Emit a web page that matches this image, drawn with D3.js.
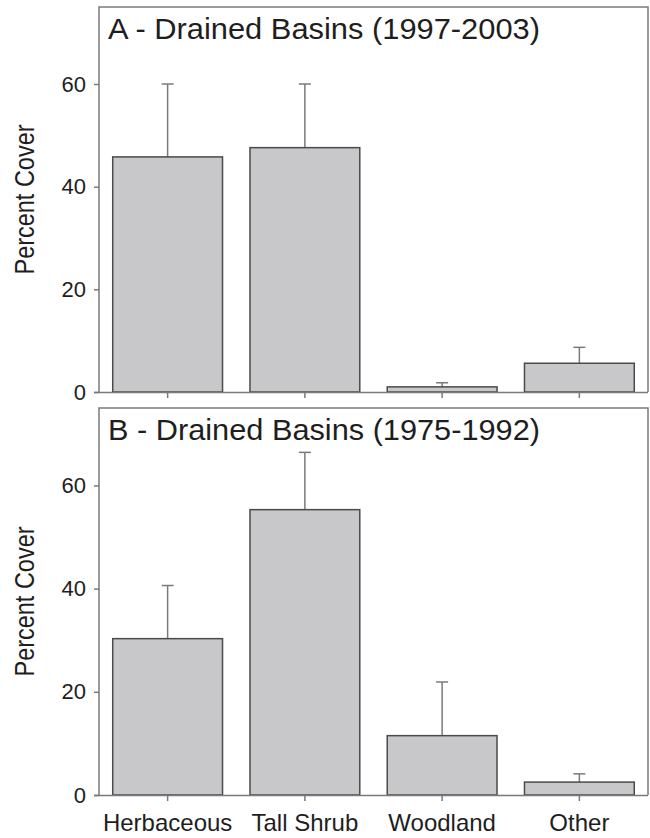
<!DOCTYPE html>
<html>
<head>
<meta charset="utf-8">
<script src="https://cdn.jsdelivr.net/npm/d3@7"></script>
<style>
  body { margin: 0; background: #fff; }
  text { font-family: "Liberation Sans", Arial, sans-serif; fill: #1e1e1e; }
</style>
</head>
<body>
<figure id="chart" style="margin:0"></figure>
<script>
// categories and values
const categories = ["Herbaceous", "Tall Shrub", "Woodland", "Other"];
const titles = ["A - Drained Basins (1997-2003)", "B - Drained Basins (1975-1992)"];
const meanA = [45.8, 47.6, 1.0, 5.6];
const errA = [14.2, 12.4, 0.8, 3.1];
const meanB = [30.3, 55.3, 11.5, 2.5];
const errB = [10.3, 11.1, 10.4, 1.6];
const yTicks = [0, 20, 40, 60];

let dimensions = {
    width: 650,
    height: 838,
    margin: { left: 99, right: 2 },
};

const panels = [
    { title: titles[0], mean: meanA, err: errA, top: 7, bottom: 392, showX: false },
    { title: titles[1], mean: meanB, err: errB, top: 408, bottom: 795, showX: true },
];

var svg = d3.select("figure#chart")
    .append("svg")
    .attr("width", dimensions.width)
    .attr("height", dimensions.height);

var xScale = d3.scaleBand()
    .domain(categories)
    .range([dimensions.margin.left, dimensions.width - dimensions.margin.right])
    .paddingInner(0.2)
    .paddingOuter(0.1);

panels.forEach(function(p) {
    var yScale = d3.scaleLinear()
        .domain([0, 75])
        .range([p.bottom, p.top]);

    var g = svg.append("g");

    // frame (left, top, right)
    g.append("path")
        .attr("d", `M${xScale.range()[0]},${p.bottom}V${p.top}H${xScale.range()[1]}V${p.bottom}`)
        .attr("fill", "none")
        .attr("stroke", "#7a7a7a")
        .attr("stroke-width", 1.5);

    var data = categories.map((c, i) => ({ cat: c, v: p.mean[i], e: p.err[i] }));

    // error bars (drawn before bars so bar covers the lower part)
    g.selectAll(".err")
        .data(data)
        .enter()
        .append("line")
        .attr("x1", d => xScale(d.cat) + xScale.bandwidth() / 2)
        .attr("x2", d => xScale(d.cat) + xScale.bandwidth() / 2)
        .attr("y1", d => yScale(d.v))
        .attr("y2", d => yScale(d.v + d.e))
        .attr("stroke", "#7a7a7a")
        .attr("stroke-width", 1.5);

    g.selectAll(".cap")
        .data(data)
        .enter()
        .append("line")
        .attr("x1", d => xScale(d.cat) + xScale.bandwidth() / 2 - 6)
        .attr("x2", d => xScale(d.cat) + xScale.bandwidth() / 2 + 6)
        .attr("y1", d => yScale(d.v + d.e))
        .attr("y2", d => yScale(d.v + d.e))
        .attr("stroke", "#7a7a7a")
        .attr("stroke-width", 1.5);

    g.selectAll(".bar")
        .data(data)
        .enter()
        .append("rect")
        .attr("x", d => xScale(d.cat))
        .attr("y", d => yScale(d.v))
        .attr("width", xScale.bandwidth())
        .attr("height", d => yScale(0) - yScale(d.v))
        .attr("fill", "#c8c8ca")
        .attr("stroke", "#4a4a4a")
        .attr("stroke-width", 1.5);

    // y axis
    var yAxis = g.append("g")
        .attr("transform", `translate(${xScale.range()[0]},0)`)
        .call(d3.axisLeft(yScale).tickValues(yTicks).tickSize(5).tickPadding(8));
    yAxis.select(".domain").remove();
    yAxis.selectAll("line").attr("stroke", "#7a7a7a").attr("stroke-width", 1.5);
    yAxis.selectAll("text").style("font-size", "22px").attr("fill", "#1e1e1e");

    // x axis
    var xAxis = g.append("g")
        .attr("transform", `translate(0,${p.bottom})`)
        .call(d3.axisBottom(xScale).tickSize(6).tickSizeOuter(0).tickPadding(13)
            .tickFormat(p.showX ? (d => d) : ""));
    xAxis.select(".domain")
        .attr("d", `M${xScale.range()[0] - 5},0.5H${xScale.range()[1]}`)
        .attr("stroke", "#7a7a7a").attr("stroke-width", 1.5);
    xAxis.selectAll("line").attr("stroke", "#7a7a7a").attr("stroke-width", 1.5);
    xAxis.selectAll("text").style("font-size", "24px").attr("fill", "#1e1e1e");

    // panel title
    g.append("text")
        .attr("x", xScale.range()[0] + 9)
        .attr("y", p.top + 32)
        .style("font-size", "29px")
        .attr("textLength", 432)
        .attr("lengthAdjust", "spacingAndGlyphs")
        .text(p.title);

    // y axis label
    g.append("text")
        .attr("transform", `translate(34,${(p.top + p.bottom) / 2}) rotate(-90)`)
        .attr("text-anchor", "middle")
        .style("font-size", "27px")
        .attr("textLength", 150)
        .attr("lengthAdjust", "spacingAndGlyphs")
        .text("Percent Cover");
});
</script>
</body>
</html>
